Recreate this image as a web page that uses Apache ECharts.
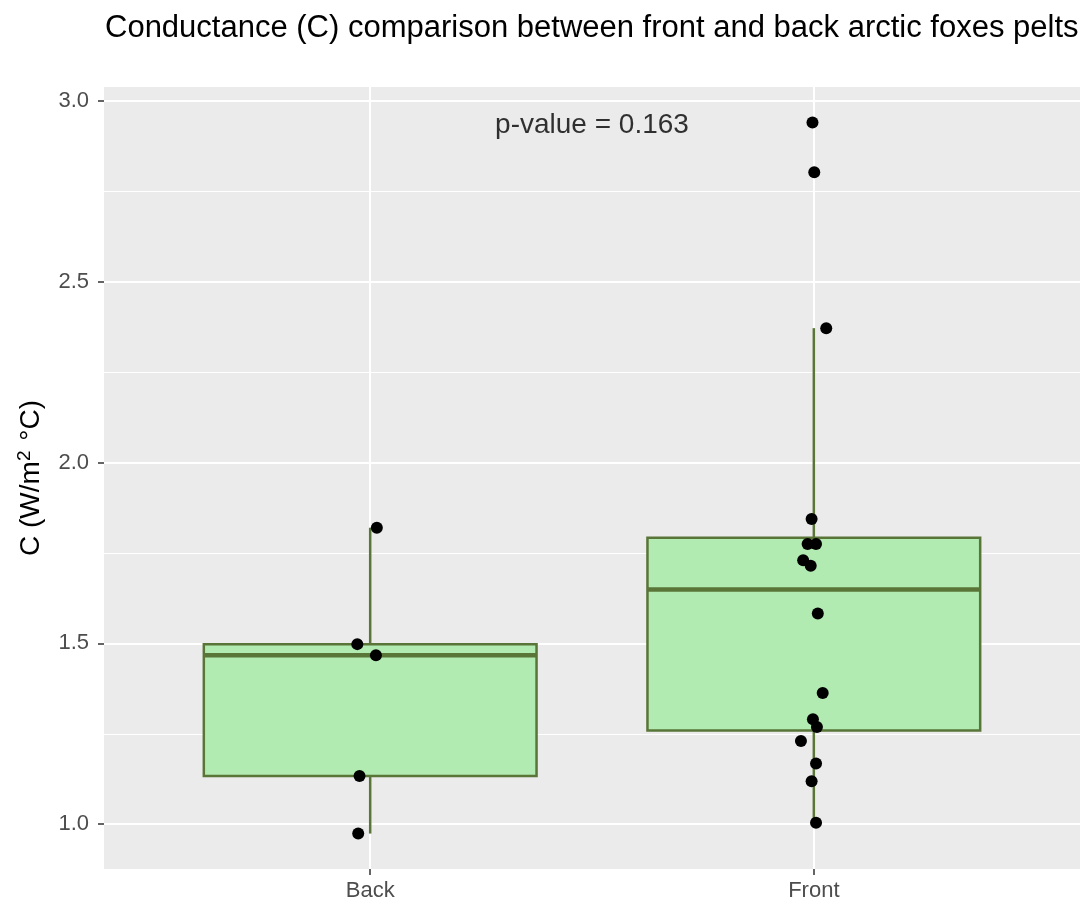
<!DOCTYPE html>
<html>
<head>
<meta charset="utf-8">
<script src="https://cdn.jsdelivr.net/npm/echarts@6/dist/echarts.min.js"></script>
<style>
html,body{margin:0;padding:0;background:#fff;}
#chart{width:1084px;height:902px;}
</style>
</head>
<body>
<div id="chart"></div>
<script>
// ---- data ----
const categories = ['Back', 'Front'];
const backValues  = [1.820, 1.498, 1.467, 1.133, 0.974];
const backJitter  = [0.015, -0.029, 0.013, -0.024, -0.027];
const frontValues = [2.941, 2.803, 2.372, 1.844, 1.775, 1.775, 1.730, 1.715, 1.583, 1.363, 1.290, 1.269, 1.230, 1.168, 1.119, 1.004];
const frontJitter = [-0.003, 0.001, 0.028, -0.005, -0.014, 0.005, -0.024, -0.007, 0.009, 0.020, -0.002, 0.007, -0.029, 0.005, -0.005, 0.005];
const yTicks = [1.0, 1.5, 2.0, 2.5, 3.0];
const yMinorTicks = [1.25, 1.75, 2.25, 2.75];
const pValueText = 'p-value = 0.163';
const titleText = 'Conductance (C) comparison between front and back arctic foxes pelts';

// ---- summary stats (type-7 quantiles, Tukey whiskers) ----
function quantile(sorted, p) {
  const h = (sorted.length - 1) * p;
  const lo = Math.floor(h), hi = Math.ceil(h);
  return sorted[lo] + (h - lo) * (sorted[hi] - sorted[lo]);
}
function boxStats(vals) {
  const s = vals.slice().sort((a, b) => a - b);
  const q1 = quantile(s, 0.25), med = quantile(s, 0.5), q3 = quantile(s, 0.75);
  const iqr = q3 - q1;
  const inside = s.filter(v => v >= q1 - 1.5 * iqr && v <= q3 + 1.5 * iqr);
  return [inside[0], q1, med, q3, inside[inside.length - 1]];
}
const groups = [backValues, frontValues];
const jitters = [backJitter, frontJitter];
const boxData = groups.map((g, i) => [i].concat(boxStats(g)));
const pointData = [];
groups.forEach((g, i) => g.forEach((v, j) => pointData.push([i + jitters[i][j], v])));

const FONT = 'Liberation Sans, Arial, Helvetica, sans-serif';
const LINE = '#5A7538';
const FILL = '#B2EBB2';

const chart = echarts.init(document.getElementById('chart'), null, {renderer: 'canvas'});
chart.setOption({
  backgroundColor: '#ffffff',
  animation: false,
  title: {
    text: titleText,
    left: 100, top: 8,
    textStyle: {fontFamily: FONT, fontSize: 31, fontWeight: 'normal', color: '#000'}
  },
  grid: {
    left: 104, right: 4, top: 87, bottom: 33,
    show: true, backgroundColor: '#EBEBEB', borderWidth: 0
  },
  xAxis: {
    type: 'value', min: -0.6, max: 1.6,
    axisLine: {show: false, onZero: false},
    axisTick: {show: true, length: 6, lineStyle: {color: '#333', width: 1.5}, customValues: [0, 1]},
    axisLabel: {
      show: true, customValues: [0, 1], margin: 11,
      formatter: v => categories[Math.round(v)] || '',
      fontFamily: FONT, fontSize: 22, color: '#4D4D4D'
    },
    splitLine: {show: true, lineStyle: {color: '#fff', width: 2}}
  },
  yAxis: [{
    type: 'value', min: 0.876, max: 3.039,
    axisLine: {show: false, onZero: false},
    axisTick: {show: true, length: 6, lineStyle: {color: '#333', width: 1.5}, customValues: yTicks},
    axisLabel: {
      show: true, customValues: yTicks, margin: 15,
      formatter: v => v.toFixed(1),
      fontFamily: FONT, fontSize: 22, color: '#4D4D4D'
    },
    splitLine: {show: true, lineStyle: {color: '#fff', width: 2}},
    name: 'C (W/m{sup|2} °C)',
    nameLocation: 'middle', nameRotate: 90, nameGap: 56,
    nameTextStyle: {
      fontFamily: FONT, fontSize: 28, color: '#000',
      rich: {sup: {fontFamily: FONT, fontSize: 19, color: '#000', verticalAlign: 'top', padding: [0, 2, 14, 0]}}
    }
  }, {
    type: 'value', min: 0.876, max: 3.039, position: 'left',
    axisLine: {show: false, onZero: false}, axisLabel: {show: false},
    axisTick: {show: false, customValues: yMinorTicks},
    splitLine: {show: true, lineStyle: {color: '#fff', width: 1}}
  }],
  series: [{
    type: 'custom',
    data: boxData,
    z: 3,
    renderItem: function (params, api) {
      const x = api.value(0);
      const lo = api.coord([x, api.value(1)]);
      const q1 = api.coord([x, api.value(2)]);
      const med = api.coord([x, api.value(3)]);
      const q3 = api.coord([x, api.value(4)]);
      const hi = api.coord([x, api.value(5)]);
      const w = api.size([0.75, 0])[0];
      const cx = lo[0];
      return {
        type: 'group',
        children: [
          {type: 'line', shape: {x1: cx, y1: hi[1], x2: cx, y2: q3[1]}, style: {stroke: LINE, lineWidth: 2.5}},
          {type: 'line', shape: {x1: cx, y1: q1[1], x2: cx, y2: lo[1]}, style: {stroke: LINE, lineWidth: 2.5}},
          {type: 'rect', shape: {x: cx - w / 2, y: q3[1], width: w, height: q1[1] - q3[1]}, style: {fill: FILL, stroke: LINE, lineWidth: 2.5}},
          {type: 'line', shape: {x1: cx - w / 2, y1: med[1], x2: cx + w / 2, y2: med[1]}, style: {stroke: LINE, lineWidth: 4.5}}
        ]
      };
    }
  }, {
    type: 'scatter',
    data: pointData,
    z: 5,
    symbol: 'circle', symbolSize: 12,
    itemStyle: {color: '#000', opacity: 1}
  }, {
    type: 'scatter',
    data: [[0.5, 2.934]],
    symbolSize: 0,
    z: 6,
    label: {
      show: true, position: 'inside', formatter: pValueText,
      fontFamily: FONT, fontSize: 28, color: '#000'
    }
  }]
});
</script>
</body>
</html>
